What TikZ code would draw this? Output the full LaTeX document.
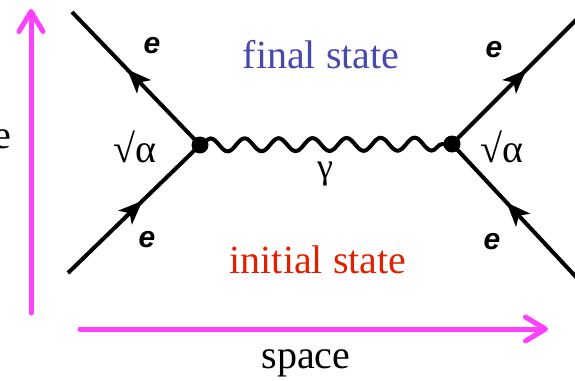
\documentclass[tikz,border=0pt]{standalone}
\usepackage{fontspec}
\setmainfont{Liberation Serif}
\newfontfamily\elabfont{Liberation Sans}
\usetikzlibrary{arrows.meta,decorations.pathmorphing,decorations.markings}
\definecolor{pinkax}{RGB}{255,64,255}
\definecolor{finalblue}{RGB}{72,72,176}
\definecolor{initred}{RGB}{224,32,0}
\tikzset{
  axis/.style={draw=pinkax,line width=5pt,line cap=round,-{Straight Barb[length=20pt,width=24pt,line width=5pt,round]}},
  fermion/.style={draw=black,line width=4pt},
  outarrow/.style={postaction={decorate},decoration={markings,mark=at position 105pt with {\arrow{Stealth[length=24pt,width=19pt,inset=6pt]}}}},
  inarrow/.style={postaction={decorate},decoration={markings,mark=at position 80pt with {\arrowreversed{Stealth[length=24pt,width=19pt,inset=6pt]}}}},
  photon/.style={draw=black,line width=4pt,decorate,decoration={snake,segment length=34pt,amplitude=6.5pt}},
  vtx/.style={circle,fill=black,inner sep=0pt,minimum size=17pt},
  big/.style={font=\fontsize{40}{40}\selectfont,inner sep=0pt},
  elab/.style={font=\fontsize{30}{30}\selectfont\elabfont\bfseries\itshape,inner sep=0pt},
}
\begin{document}
\begin{tikzpicture}[x=1pt,y=-1pt]
\useasboundingbox (0,0) rectangle (575,380);
\clip (0,0) rectangle (575,380);
% axes
\coordinate (tb) at (31,313);
\coordinate (tt) at (31,9);
\coordinate (sl) at (80,329);
\coordinate (sr) at (548,329);
\draw[axis] (tb) -- (tt);
\draw[axis] (sl) -- (sr);
\node[big,anchor=base] (space) at (306,368) {space};
\node[big,anchor=base east] (time) at (11,148) {e};
% vertices
\coordinate (v1) at (200,145);
\coordinate (v2) at (452,144);
\coordinate (ul) at (72,12);
\coordinate (ll) at (68,273);
\coordinate (ur) at (590,6);
\coordinate (lr) at (590,292);
\draw[fermion,outarrow] (v1) -- (ul);
\draw[fermion,inarrow] (v1) -- (ll);
\draw[fermion,outarrow] (v2) -- (ur);
\draw[fermion,inarrow] (v2) -- (lr);
\draw[photon] (v1) -- (v2);
\node[vtx] (d1) at (v1) {};
\node[vtx] (d2) at (v2) {};
% labels
\node[big,anchor=base] (a1) at (135,162) {√α};
\node[big,anchor=base] (a2) at (502,162) {√α};
\node[elab] (e1) at (152,46) {e};
\node[elab] (e2) at (147,240) {e};
\node[elab] (e3) at (494,50) {e};
\node[elab] (e4) at (492,242) {e};
\node[font=\fontsize{36}{36}\selectfont,inner sep=0pt] (g) at (325,174) {γ};
\node[big,text=finalblue] (fs) at (321,55) {final state};
\node[big,text=initred] (is) at (318,260) {initial state};
\end{tikzpicture}
\end{document}
